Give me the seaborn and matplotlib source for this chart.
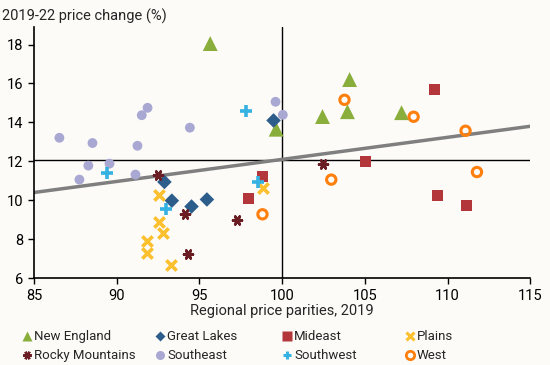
import matplotlib
matplotlib.use('Agg')
import matplotlib.pyplot as plt
import pandas as pd
import seaborn as sns

# regional price parities (x) and 2019-22 price change (y), by BEA region
ne_x = [95.65, 99.64, 104.08, 102.44, 103.95, 107.22]
ne_y = [18.05, 13.65, 16.2, 14.3, 14.55, 14.5]
gl_x = [99.48, 92.88, 93.33, 94.52, 95.45]
gl_y = [14.1, 10.94, 9.98, 9.68, 10.04]
me_x = [109.22, 98.81, 97.96, 105.04, 109.4, 111.15]
me_y = [15.68, 11.23, 10.09, 11.98, 10.24, 9.73]
pl_x = [92.58, 92.58, 92.82, 91.82, 91.82, 93.27, 98.83]
pl_y = [10.29, 8.86, 8.34, 7.9, 7.27, 6.7, 10.63]
rm_x = [92.48, 94.15, 97.28, 94.3, 102.5]
rm_y = [11.3, 9.28, 9.01, 7.23, 11.88]
se_x = [86.53, 88.53, 91.25, 91.51, 91.86, 94.42, 99.6, 100.04, 87.74, 88.28, 89.56, 91.13]
se_y = [13.21, 12.94, 12.8, 14.37, 14.75, 13.73, 15.06, 14.39, 11.06, 11.78, 11.88, 11.32]
sw_x = [97.79, 89.38, 92.99, 98.55]
sw_y = [14.58, 11.42, 9.57, 10.92]
we_x = [103.77, 107.95, 111.09, 98.81, 102.97, 111.78]
we_y = [15.16, 14.29, 13.57, 9.28, 11.06, 11.45]

regions = ['New England', 'Great Lakes', 'Mideast', 'Plains',
           'Rocky Mountains', 'Southeast', 'Southwest', 'West']
xs = [ne_x, gl_x, me_x, pl_x, rm_x, se_x, sw_x, we_x]
ys = [ne_y, gl_y, me_y, pl_y, rm_y, se_y, sw_y, we_y]

# fitted line end points and US average reference
fit_x = [85, 115]
fit_y = [10.4, 13.8]
us_avg = 12.08

colors = {'New England': '#8aae3c', 'Great Lakes': '#2d5d8b', 'Mideast': '#b3373a',
          'Plains': '#fbc02d', 'Rocky Mountains': '#6a1d22', 'Southeast': '#a9a8d2',
          'Southwest': '#36b2e2', 'West': '#ff7f0e'}
markers = {'New England': '^', 'Great Lakes': 'D', 'Mideast': 's', 'Plains': 'x',
           'Rocky Mountains': (6, 2, 90), 'Southeast': 'o', 'Southwest': '+', 'West': 'o'}
sizes = {'New England': 115, 'Great Lakes': 55, 'Mideast': 60, 'Plains': 55,
         'Rocky Mountains': 40, 'Southeast': 50, 'Southwest': 75, 'West': 45}
lines = {'Plains': 2.6, 'Southwest': 2.6, 'Rocky Mountains': 2.0}

df = pd.concat([pd.DataFrame({'rpp': x, 'chg': y, 'region': r})
                for r, x, y in zip(regions, xs, ys)], ignore_index=True)

sns.set_style('ticks')
plt.rcParams['font.family'] = ['Roboto', 'DejaVu Sans']
bg = '#fcfbf8'
fig = plt.figure(figsize=(5.5, 3.65), dpi=100, facecolor=bg)
ax = fig.add_axes([0.062, 0.238, 0.902, 0.688], facecolor=bg)

ax.axvline(100, color='black', lw=1, zorder=1)
ax.axhline(us_avg, color='black', lw=1, zorder=1)
sns.lineplot(x=fit_x, y=fit_y, ax=ax, color='#7f7f7f', lw=2.5, zorder=2)

handles = {}
for r in regions:
    sub = df[df['region'] == r]
    if r == 'West':
        sns.scatterplot(data=sub, x='rpp', y='chg', ax=ax, marker='o', s=sizes[r],
                        facecolor='none', edgecolor=colors[r], linewidth=2.2, zorder=3)
        h = plt.Line2D([], [], ls='', marker='o', ms=6, mfc='none', mec=colors[r], mew=2)
    elif r in lines:
        sns.scatterplot(data=sub, x='rpp', y='chg', ax=ax, marker=markers[r], s=sizes[r],
                        color=colors[r], linewidth=lines[r], zorder=3)
        h = plt.Line2D([], [], ls='', marker=markers[r], ms=6, color=colors[r],
                       mew=lines[r] * 0.85)
    else:
        sns.scatterplot(data=sub, x='rpp', y='chg', ax=ax, marker=markers[r], s=sizes[r],
                        color=colors[r], edgecolor='none', linewidth=0, zorder=3)
        h = plt.Line2D([], [], ls='', marker=markers[r], ms=6.5 if r != 'Great Lakes' else 5,
                       color=colors[r], mec='none')
    handles[r] = h

ax.set_xlim(85, 115)
ax.set_ylim(6, 18.9)
ax.set_xticks(range(85, 116, 5))
ax.set_yticks(range(6, 19, 2))
ax.tick_params(labelsize=10.5, length=4, width=1, colors='black')
for s in ['top', 'right']:
    ax.spines[s].set_visible(False)
for s in ['left', 'bottom']:
    ax.spines[s].set_color('black')
    ax.spines[s].set_linewidth(1.2)
ax.set_xlabel('Regional price parities, 2019', fontsize=10.5, labelpad=1)
ax.set_ylabel('')
fig.text(0.004, 0.975, '2019-22 price change (%)', fontsize=10.5, va='top', ha='left')

# legend: four fixed-width columns, two rows
cols = [['New England', 'Rocky Mountains'], ['Great Lakes', 'Southeast'],
        ['Mideast', 'Southwest'], ['Plains', 'West']]
col_x = [0.040, 0.282, 0.513, 0.736]
for names, cx in zip(cols, col_x):
    fig.legend([handles[r] for r in names], names, ncol=1, loc='upper left',
               bbox_to_anchor=(cx, 0.095), frameon=False, fontsize=9.5,
               handlelength=0.8, handletextpad=0.1, labelspacing=0.45,
               borderaxespad=0, borderpad=0)

fig.savefig('out.png', dpi=100, facecolor=bg)
